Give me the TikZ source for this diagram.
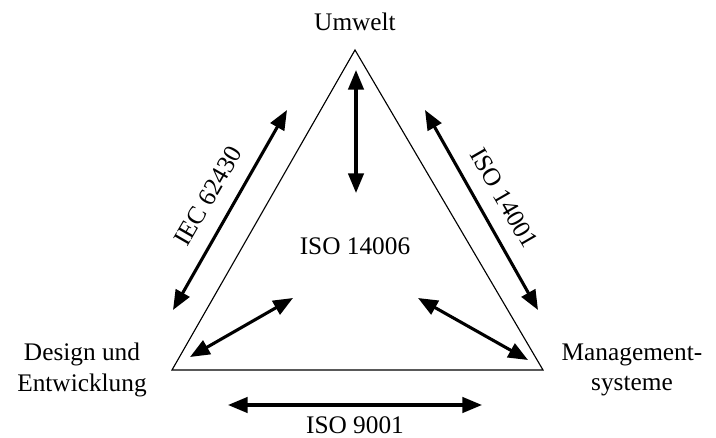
\documentclass[tikz,border=0pt]{standalone}
\usepackage{fontspec}
\setmainfont{Liberation Serif}
\usepackage{tikz}
\usetikzlibrary{positioning}
\usetikzlibrary{calc}
\usetikzlibrary{arrows.meta}
\tikzset{lbl/.style={inner sep=0pt, align=center, font=\fontsize{18}{21.5}\selectfont}}
\tikzset{dbl/.style={{Triangle[length=14pt,width=11pt]}-{Triangle[length=14pt,width=11pt]}, line width=2.2pt}}

\begin{document}
\begin{tikzpicture}[x=0.025cm, y=-0.025cm]
\useasboundingbox (0,0) rectangle (716,438);
\coordinate (top) at (355,50);
\coordinate (bl) at (172,370);
\coordinate (br) at (543,370);

\node[lbl] (umw) at (355,22) {Umwelt};
\node[lbl] (mid) at (355,246) {ISO 14006};
\node[lbl] (des) at (82,370) {Design und\\Entwicklung};
\node[lbl] (man) at (632,370) {Management-\\systeme};
\node[lbl] (iso9) at (355,425) {ISO 9001};
\node[lbl, rotate=60] (iec) at (208,196) {IEC 62430};
\node[lbl, rotate=-60] (iso14) at (504,198) {ISO 14001};

\coordinate (v1) at (356,70);
\coordinate (v2) at (356,193);
\coordinate (l1) at (173,310);
\coordinate (l2) at (287,110);
\coordinate (r1) at (425,110);
\coordinate (r2) at (538,310);
\coordinate (b1) at (228,405);
\coordinate (b2) at (482,405);
\coordinate (dl1) at (190,357);
\coordinate (dl2) at (293,298);
\coordinate (dr1) at (418,298);
\coordinate (dr2) at (528,360);

\draw[line width=0.8pt] (top) -- (bl) -- (br) -- cycle;

\draw[dbl] (v1) -- (v2);
\draw[dbl] (l1) -- (l2);
\draw[dbl] (r1) -- (r2);
\draw[dbl] (b1) -- (b2);
\draw[dbl] (dl1) -- (dl2);
\draw[dbl] (dr1) -- (dr2);
\end{tikzpicture}
\end{document}
